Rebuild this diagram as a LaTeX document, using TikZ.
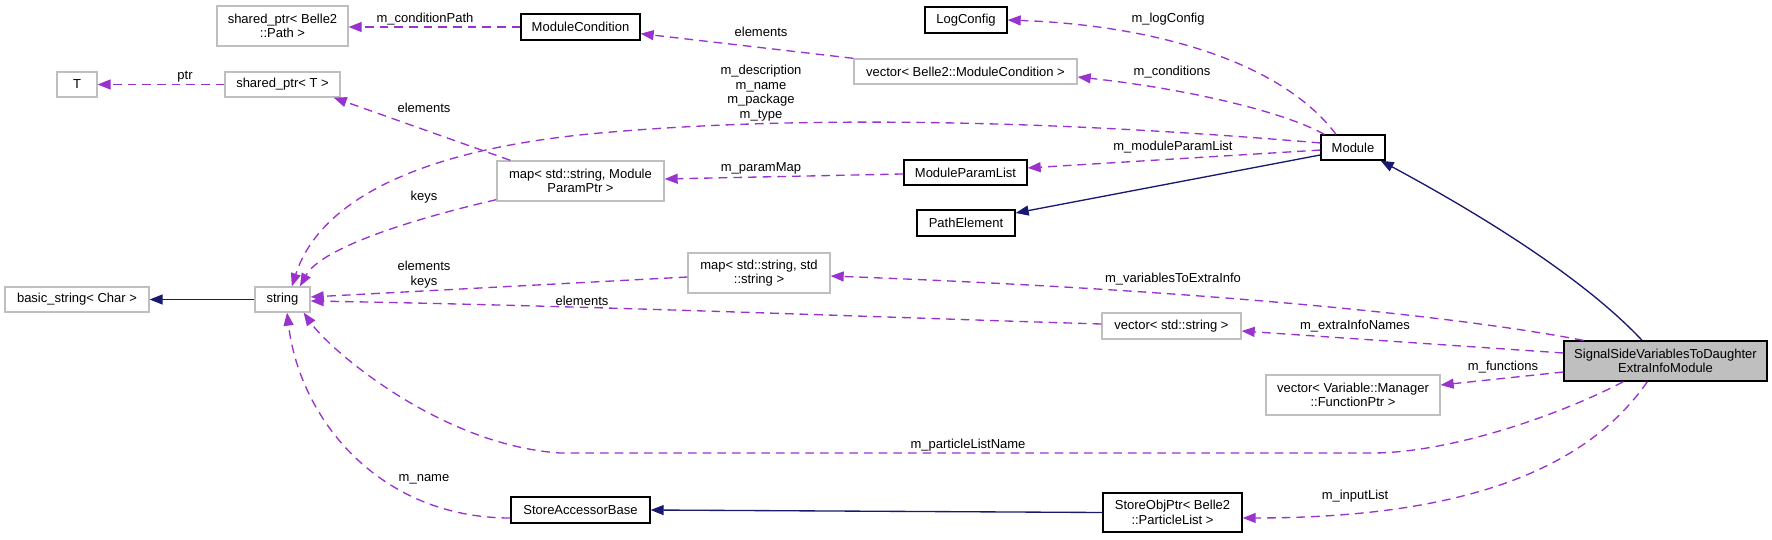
\documentclass[tikz,border=0pt]{standalone}
\usepackage{fontspec}
\setmainfont{Liberation Sans}
\usetikzlibrary{arrows.meta}
\definecolor{dpurple}{HTML}{9A32CD}
\definecolor{dnavy}{HTML}{191970}
\definecolor{dgrey}{HTML}{BFBFBF}
\begin{document}
\begin{tikzpicture}[x=0.75pt,y=-0.75pt,
 every node/.style={font=\fontsize{9.75}{11}\selectfont},
 cls/.style={draw=black, line width=1pt, inner sep=0pt, align=center, fill=white},
 ext/.style={draw=dgrey, line width=1pt, inner sep=0pt, align=center, fill=white},
 use/.style={draw=dpurple, line width=1pt, dash pattern=on 6.5pt off 4.5pt, -{Triangle[length=9.75pt,width=7.5pt]}},
 inh/.style={draw=dnavy, line width=1pt, -{Triangle[length=9.75pt,width=7.5pt]}},
 lbl/.style={inner sep=0pt, align=center}]
\useasboundingbox[fill=white] (0,0) rectangle (1772,539);

% nodes
\node[ext, minimum width=98.25pt, minimum height=30pt] (spPath) at (282.5,26) {shared\_ptr< Belle2\\::Path >};
\node[cls, minimum width=89.25pt, minimum height=19.5pt] (ModCond) at (580.5,27) {ModuleCondition};
\node[ext, minimum width=30pt, minimum height=18.75pt] (T) at (77,84.5) {T};
\node[ext, minimum width=86.25pt, minimum height=18.75pt] (spT) at (282.5,84.5) {shared\_ptr< T >};
\node[ext, minimum width=125.25pt, minimum height=30pt] (mapMP) at (580.5,181) {map< std::string, Module\\ParamPtr >};
\node[cls, minimum width=61.5pt, minimum height=19.5pt] (LogConfig) at (966,20) {LogConfig};
\node[ext, minimum width=167.25pt, minimum height=18.75pt] (vecMC) at (965.5,71.5) {vector< Belle2::ModuleCondition >};
\node[cls, minimum width=92.25pt, minimum height=18.75pt] (MPL) at (965.5,172.5) {ModuleParamList};
\node[cls, minimum width=73.5pt, minimum height=19.5pt] (PathEl) at (966,223) {PathElement};
\node[cls, minimum width=48pt, minimum height=18.75pt] (Module) at (1353,147.5) {Module};
\node[ext, minimum width=108pt, minimum height=18.75pt] (bstr) at (77,299.5) {basic\_string< Char >};
\node[ext, minimum width=41.25pt, minimum height=18.75pt] (str) at (282.5,299.5) {string};
\node[ext, minimum width=106.5pt, minimum height=30pt] (mapSS) at (759,273) {map< std::string, std\\::string >};
\node[ext, minimum width=104.25pt, minimum height=19.5pt] (vecS) at (1171.5,326) {vector< std::string >};
\node[ext, minimum width=130.5pt, minimum height=30pt] (vecFP) at (1353,395) {vector< Variable::Manager\\::FunctionPtr >};
\node[cls, fill=dgrey, minimum width=152.25pt, minimum height=30pt] (SSV) at (1665.5,361) {SignalSideVariablesToDaughter\\ExtraInfoModule};
\node[cls, minimum width=104.25pt, minimum height=19.5pt] (SAB) at (580.5,510) {StoreAccessorBase};
\node[cls, minimum width=104.25pt, minimum height=29.25pt] (SOP) at (1172.5,512.5) {StoreObjPtr< Belle2\\::ParticleList >};

% connectors
\draw[use] (ModCond.west) -- (spPath.east |- ModCond.west);
\draw[use] (spT.west) -- (T.east);
\draw[use] ([xshift=10.5pt]mapMP.north west) -- ([xshift=-5.25pt]spT.south east);
\draw[use] ([yshift=1.5pt]mapMP.south west) .. controls (400,222) and (320,250) .. ([xshift=13.1pt]str.north);
\draw[use] ([yshift=3.4pt]Module.west) .. controls (1050,120) and (800,115) .. (600,133)
   .. controls (420,149) and (320,200) .. ([xshift=7pt]str.north);
\draw[use] ([xshift=-12.75pt]Module.north) .. controls (1280,60) and (1150,25) .. (LogConfig.east);
\draw[use] ([xshift=3pt]Module.north west) .. controls (1280,110) and (1180,88) .. ([yshift=-4.1pt]vecMC.east);
\draw[use] (vecMC.north west) -- ([yshift=5.25pt]ModCond.south east);
\draw[use] ([yshift=-1.9pt]Module.west) -- ([yshift=3.4pt]MPL.east);
\draw[use] ([yshift=-1.1pt]MPL.west) -- ([yshift=1.5pt]mapMP.east);
\draw[inh] ([yshift=-5.6pt]Module.west) -- ([yshift=7.5pt]PathEl.east);
\draw[inh] ([xshift=-17.6pt]SSV.north) .. controls (1590,285) and (1500,225) .. ([xshift=-3.75pt]Module.south east);
\draw[inh] (str.west) -- (bstr.east);
\draw[use] ([yshift=-3pt]mapSS.west) -- ([yshift=1.9pt]str.east);
\draw[use] ([yshift=1.5pt]vecS.west) .. controls (900,318) and (600,306) .. ([yshift=-1.1pt]str.east);
\draw[use] ([xshift=15pt]SSV.north west) .. controls (1450,315) and (1200,290) .. ([yshift=-2.25pt]mapSS.east);
\draw[use] ([yshift=6pt]SSV.west) -- ([yshift=-3.75pt]vecS.east);
\draw[use] ([yshift=-8.25pt]SSV.west) -- ([yshift=7.5pt]vecFP.east);
\draw[use] ([xshift=45pt]SSV.south west) .. controls (1560,415) and (1450,453) .. (1372,453)
   -- (560,453) .. controls (440,445) and (330,350) .. ([xshift=-5.25pt]str.south east);
\draw[use] ([xshift=63pt]SSV.south west) .. controls (1600,450) and (1500,518) .. ([yshift=-4.1pt]SOP.east);
\draw[inh] (SOP.west) -- (SAB.east);
\draw[use] ([yshift=-6pt]SAB.west) .. controls (380,518) and (300,420) .. ([xshift=3.4pt]str.south);

% labels
\node[lbl] (lcp) at (425,19) {m\_conditionPath};
\node[lbl] (lptr) at (185,77) {ptr};
\node[lbl] (lel1) at (424,108) {elements};
\node[lbl] (lkeys) at (424,197) {keys};
\node[lbl] (lelk) at (424,274.5) {elements\\keys};
\node[lbl] (lel2) at (582,301) {elements};
\node[lbl] (ldesc) at (761,93) {m\_description\\m\_name\\m\_package\\m\_type};
\node[lbl] (lel3) at (761,32) {elements};
\node[lbl] (lpm) at (761,168) {m\_paramMap};
\node[lbl] (llog) at (1168,19) {m\_logConfig};
\node[lbl] (lcond) at (1172,72) {m\_conditions};
\node[lbl] (lmpl) at (1173,147) {m\_moduleParamList};
\node[lbl] (lvte) at (1173,279) {m\_variablesToExtraInfo};
\node[lbl] (lein) at (1355,326) {m\_extraInfoNames};
\node[lbl] (lfun) at (1503,367) {m\_functions};
\node[lbl] (lpln) at (968,445) {m\_particleListName};
\node[lbl] (linp) at (1355,496) {m\_inputList};
\node[lbl] (lname) at (424,479) {m\_name};
\end{tikzpicture}
\end{document}
